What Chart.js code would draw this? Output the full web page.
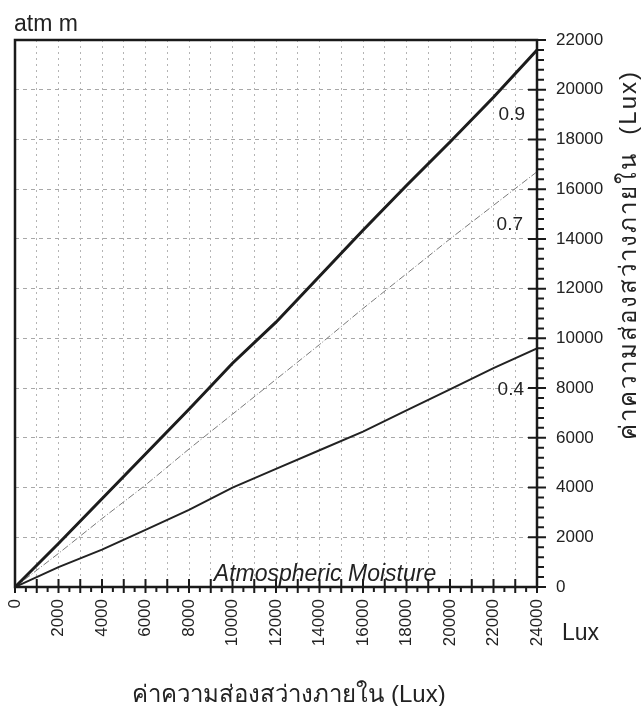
<!DOCTYPE html>
<html>
<head>
<meta charset="utf-8">
<title>atm m</title>
<script src="https://cdn.jsdelivr.net/npm/chart.js"></script>
<style>
  body { margin: 0; background: #fff; }
  #wrap { width: 642px; height: 706px; }
</style>
</head>
<body>
<div id="wrap"><canvas id="myChart" width="642" height="706"></canvas></div>
<script>
// values
var lux = [0, 2000, 4000, 6000, 8000, 10000, 12000, 14000, 16000, 18000, 20000, 22000, 24000];
var atm09 = [0, 1750, 3550, 5350, 7150, 9000, 10650, 12500, 14350, 16150, 17900, 19700, 21600];
var atm07 = [0, 1350, 2750, 4100, 5550, 6950, 8350, 9750, 11200, 12600, 14000, 15350, 16700];
var atm04 = [0, 800, 1500, 2300, 3100, 4000, 4750, 5500, 6250, 7100, 7950, 8800, 9600];

var xTicks = [0, 2000, 4000, 6000, 8000, 10000, 12000, 14000, 16000, 18000, 20000, 22000, 24000];
var yTicks = [0, 2000, 4000, 6000, 8000, 10000, 12000, 14000, 16000, 18000, 20000, 22000];

const thaiTitle = 'ค่าความส่องสว่างภายใน (Lux)';
const fam = "'Liberation Sans', Arial, 'Noto Sans', sans-serif";

function pts(ys) {
    return lux.map(function (x, i) { return { x: x, y: ys[i] }; });
}

// frame, axis tick marks and the loose texts
const extras = {
    id: 'extras',
    afterDatasetsDraw(chart) {
        const ctx = chart.ctx;
        const a = chart.chartArea;
        const xs = chart.scales.x, ys = chart.scales.y;
        ctx.save();
        ctx.strokeStyle = '#1a1a1a';
        ctx.lineWidth = 2.5;
        ctx.strokeRect(a.left, a.top, a.right - a.left, a.bottom - a.top);

        ctx.lineWidth = 2;
        ctx.beginPath();
        for (let v = 0; v <= 24000; v += 500) {
            const px = xs.getPixelForValue(v);
            if (v % 1000 === 0) {
                ctx.moveTo(px, a.bottom - 8);
                ctx.lineTo(px, a.bottom + 6);
            } else {
                ctx.moveTo(px, a.bottom);
                ctx.lineTo(px, a.bottom + 5);
            }
        }
        for (let v = 0; v <= 22000; v += 400) {
            const py = ys.getPixelForValue(v);
            if (v % 2000 === 0) {
                ctx.moveTo(a.right - 9, py);
                ctx.lineTo(a.right + 9, py);
            } else {
                ctx.moveTo(a.right, py);
                ctx.lineTo(a.right + 7, py);
            }
        }
        ctx.stroke();
        ctx.restore();
    },
    afterDraw(chart) {
        const ctx = chart.ctx;
        const a = chart.chartArea;
        const ys = chart.scales.y;
        ctx.save();
        ctx.fillStyle = '#222';
        ctx.textBaseline = 'alphabetic';

        ctx.font = '23px ' + fam;
        ctx.textAlign = 'left';
        ctx.fillText('atm m', 14, 31);
        ctx.fillText('Lux', a.right + 25, 640);

        ctx.font = '19px ' + fam;
        ctx.textAlign = 'right';
        ctx.fillText('0.9', a.right - 12, ys.getPixelForValue(19050) + 7);
        ctx.fillText('0.7', a.right - 14, ys.getPixelForValue(14650) + 7);
        ctx.fillText('0.4', a.right - 13, ys.getPixelForValue(8000) + 7);

        ctx.font = 'italic 23px ' + fam;
        ctx.textAlign = 'center';
        ctx.fillText('Atmospheric Moisture', 325, a.bottom - 6);

        ctx.font = '24px ' + fam;
        ctx.fillText(thaiTitle, 289, 702);

        // right-hand title reads bottom to top
        ctx.translate(629, 255);
        ctx.rotate(-Math.PI / 2);
        ctx.letterSpacing = '2px';
        ctx.textAlign = 'center';
        ctx.textBaseline = 'middle';
        ctx.fillText('ค่าความส่องสว่างภายใน  (Lux)', 0, 0);
        ctx.restore();
    }
};

const data = {
    datasets: [
        {
            label: '0.9',
            data: pts(atm09),
            borderColor: '#1c1c1c',
            borderWidth: 3,
            pointRadius: 0
        },
        {
            label: '0.7',
            data: pts(atm07),
            borderColor: '#7a7a7a',
            borderWidth: 1,
            borderDash: [7, 2, 1, 2],
            pointRadius: 0
        },
        {
            label: '0.4',
            data: pts(atm04),
            borderColor: '#222',
            borderWidth: 2,
            pointRadius: 0
        }
    ]
};

const config = {
    type: 'line',
    data: data,
    options: {
        responsive: false,
        animation: false,
        layout: { padding: { left: 15, top: 40, right: 0, bottom: 0 } },
        plugins: { legend: { display: false }, tooltip: { enabled: false } },
        scales: {
            x: {
                type: 'linear',
                position: 'bottom',
                min: 0,
                max: 24000,
                ticks: {
                    stepSize: 1000,
                    autoSkip: false,
                    minRotation: 90,
                    maxRotation: 90,
                    padding: 12,
                    color: '#222',
                    font: { family: fam, size: 17 },
                    callback: function (v) { return xTicks.includes(v) ? String(v) : ''; }
                },
                grid: { color: '#b4b4b4', lineWidth: 1, drawTicks: false },
                border: { display: false, dash: [2, 4] },
                afterFit: function (s) { s.height = 119; }
            },
            y: {
                type: 'linear',
                position: 'right',
                min: 0,
                max: 22000,
                ticks: {
                    stepSize: 2000,
                    padding: 19,
                    color: '#222',
                    font: { family: fam, size: 17 },
                    callback: function (v) { return yTicks.includes(v) ? String(v) : ''; }
                },
                grid: { color: '#a8a8a8', lineWidth: 1, drawTicks: false },
                border: { display: false, dash: [4, 4] },
                afterFit: function (s) { s.width = 105; }
            }
        }
    },
    plugins: [extras]
};

var myChart = new Chart(document.getElementById('myChart'), config);
</script>
</body>
</html>
